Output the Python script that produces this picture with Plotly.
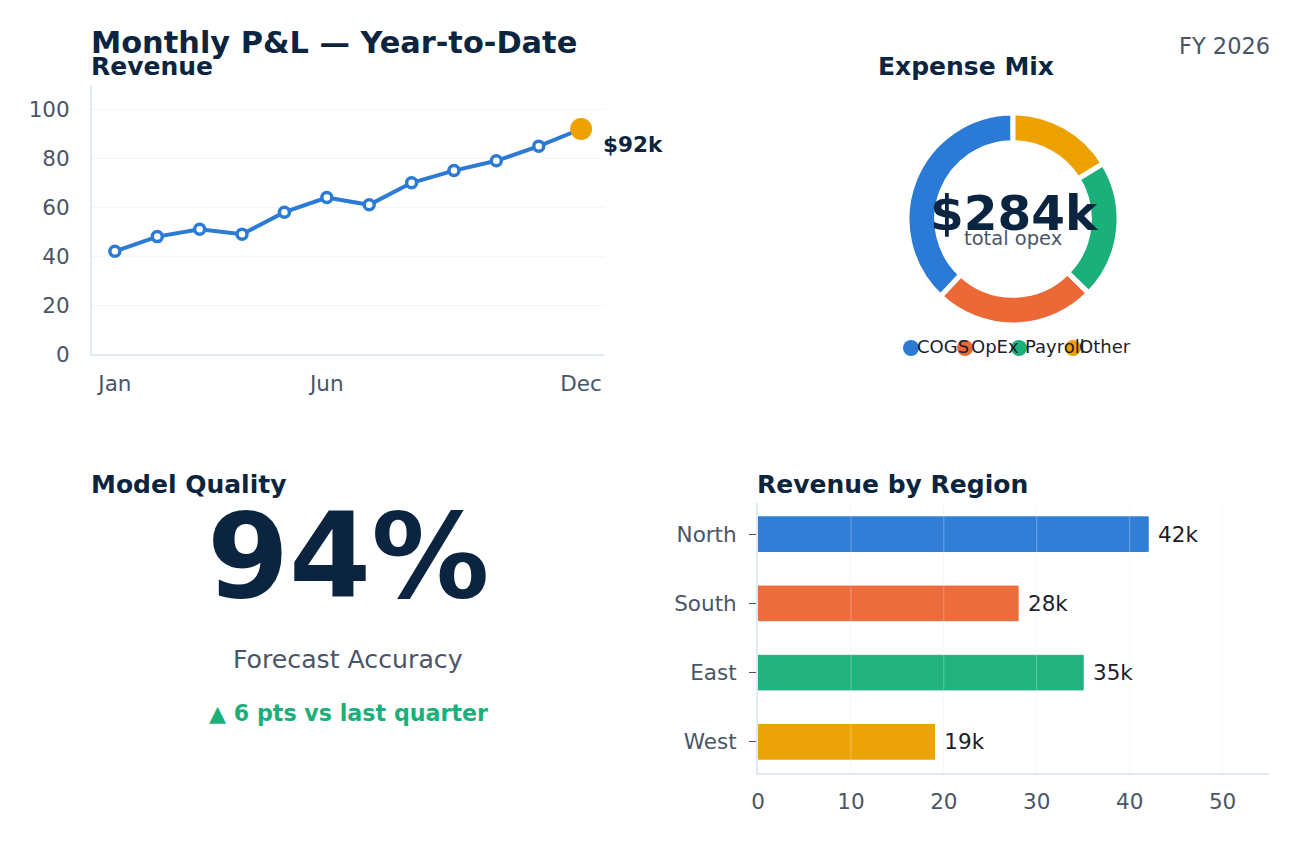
import plotly.graph_objects as go

W, H = 1299, 842

months = ["Jan", "Feb", "Mar", "Apr", "May", "Jun", "Jul", "Aug", "Sep", "Oct", "Nov", "Dec"]
revenue = [42, 48, 51, 49, 58, 64, 61, 70, 75, 79, 85, 92]
month_ticks = ["Jan", "Jun", "Dec"]
rev_yticks = [0, 20, 40, 60, 80, 100]

expense_labels = ["COGS", "OpEx", "Payroll", "Other"]
expense_values = [108, 70, 60, 46]

regions = ["North", "South", "East", "West"]
region_values = [42, 28, 35, 19]
region_xticks = [0, 10, 20, 30, 40, 50]

kpi_value = "94%"
kpi_label = "Forecast Accuracy"
kpi_delta = "▲ 6 pts vs last quarter"

NAVY = "#0b2540"
GREY = "#4a5568"
DARK = "#1a202c"
BLUE = "#2b7ad6"
ORANGE = "#ec6836"
GREEN = "#1bb07a"
GOLD = "#eda100"
palette = [BLUE, ORANGE, GREEN, GOLD]
AXIS = "#e2e8f0"
GRID = "#f3f6f9"
FONT = "DejaVu Sans"
TICK = 21.5


def px_x(p):
    return p / W


def px_y(p):
    return 1 - p / H


fig = go.Figure()

# Revenue line
fig.add_trace(go.Scatter(
    x=months, y=revenue, mode="lines+markers",
    line=dict(color=BLUE, width=4),
    marker=dict(size=10, color="white", line=dict(color=BLUE, width=3.5)),
    xaxis="x", yaxis="y", showlegend=False, cliponaxis=False, hoverinfo="x+y"))
fig.add_trace(go.Scatter(
    x=[months[-1]], y=[revenue[-1]], mode="markers",
    marker=dict(size=22, color=GOLD),
    xaxis="x", yaxis="y", showlegend=False, cliponaxis=False))

# Donut: first slice runs counter-clockwise from 12 o'clock
first_share = expense_values[0] / sum(expense_values)
fig.add_trace(go.Pie(
    labels=expense_labels, values=expense_values, hole=0.72, sort=False,
    direction="counterclockwise", rotation=-360 * first_share,
    marker=dict(colors=palette, line=dict(color="white", width=5)),
    textinfo="none", showlegend=False,
    domain=dict(x=[px_x(907), px_x(1119)], y=[px_y(325), px_y(113)])))

# Custom legend for donut: circles first, labels drawn on top
idx = list(range(len(expense_labels)))
fig.add_trace(go.Scatter(
    x=idx, y=[0] * len(idx), mode="markers",
    marker=dict(size=16, color=palette),
    xaxis="x3", yaxis="y3", showlegend=False, cliponaxis=False, hoverinfo="skip"))
fig.add_trace(go.Scatter(
    x=idx, y=[0] * len(idx),
    mode="markers+text", text=expense_labels, textposition="middle right",
    marker=dict(size=8, color="rgba(0,0,0,0)"),
    textfont=dict(family=FONT, size=18, color=DARK),
    xaxis="x3", yaxis="y3", showlegend=False, cliponaxis=False, hoverinfo="skip"))

# Region bars
fig.add_trace(go.Bar(
    y=regions, x=region_values, orientation="h",
    marker=dict(color=palette, opacity=0.97, line=dict(width=1, color=palette)),
    width=0.5,
    texttemplate="\u00a0%{x}k", textposition="outside",
    textfont=dict(family=FONT, size=TICK, color=DARK),
    cliponaxis=False,
    xaxis="x4", yaxis="y4", showlegend=False))

tickfont = dict(family=FONT, size=TICK, color=GREY)

annotations = [
    dict(text="Monthly P&L — Year-to-Date", x=px_x(89), y=px_y(43), xanchor="left", yanchor="middle",
         font=dict(family=FONT, size=30.4, color=NAVY, weight="bold")),
    dict(text="FY 2026", x=px_x(1272), y=px_y(46), xanchor="right", yanchor="middle",
         font=dict(family=FONT, size=22.5, color=GREY)),
    dict(text="Revenue", x=px_x(89), y=px_y(66), xanchor="left", yanchor="middle",
         font=dict(family=FONT, size=25, color=NAVY, weight="bold")),
    dict(text="Expense Mix", x=px_x(966), y=px_y(66), xanchor="center", yanchor="middle",
         font=dict(family=FONT, size=25, color=NAVY, weight="bold")),
    dict(text="Model Quality", x=px_x(89), y=px_y(484), xanchor="left", yanchor="middle",
         font=dict(family=FONT, size=25, color=NAVY, weight="bold")),
    dict(text="Revenue by Region", x=px_x(755), y=px_y(484), xanchor="left", yanchor="middle",
         font=dict(family=FONT, size=25, color=NAVY, weight="bold")),
    dict(text=f"${sum(expense_values)}k", x=px_x(1014), y=px_y(213), xanchor="center", yanchor="middle",
         font=dict(family=FONT, size=48.5, color=NAVY, weight="bold")),
    dict(text="total opex", x=px_x(1013), y=px_y(239), xanchor="center", yanchor="middle",
         font=dict(family=FONT, size=19.5, color=GREY)),
    dict(text=kpi_value, x=px_x(348), y=px_y(556), xanchor="center", yanchor="middle",
         font=dict(family=FONT, size=118, color=NAVY, weight="bold")),
    dict(text=kpi_label, x=px_x(348), y=px_y(659), xanchor="center", yanchor="middle",
         font=dict(family=FONT, size=25.2, color=GREY)),
    dict(text=kpi_delta, x=px_x(348), y=px_y(713), xanchor="center", yanchor="middle",
         font=dict(family=FONT, size=22.2, color=GREEN, weight="bold")),
]
for a in annotations:
    a.update(xref="paper", yref="paper", showarrow=False)

# end-of-line value label, anchored to the last data point
annotations.append(dict(
    text=f"${revenue[-1]}k", xref="x", yref="y", x=months[-1], y=revenue[-1],
    xanchor="left", yanchor="middle", xshift=20, yshift=-15, showarrow=False,
    font=dict(family=FONT, size=21.5, color=NAVY, weight="bold")))

# gridlines drawn over bars (light translucent)
shapes = [dict(type="line", xref="x4", yref="y4 domain", x0=v, x1=v, y0=0, y1=1,
               line=dict(color="rgba(255,255,255,0.3)", width=1), layer="above")
          for v in region_xticks[1:]]

fig.update_layout(
    width=W, height=H, margin=dict(l=0, r=0, t=0, b=0, autoexpand=False),
    paper_bgcolor="white", plot_bgcolor="white",
    font=dict(family=FONT, color=GREY),
    showlegend=False,
    annotations=annotations, shapes=shapes,
    xaxis=dict(domain=[px_x(92), px_x(604)], type="category", categoryarray=months,
               range=[-0.54, 11.54], tickvals=month_ticks, ticktext=month_ticks,
               showgrid=False, showline=True, linecolor=AXIS, linewidth=2, automargin=False,
               ticks="", tickfont=tickfont, ticklabelstandoff=9, zeroline=False, fixedrange=True),
    yaxis=dict(domain=[px_y(354), px_y(85)], range=[0, 110], tickvals=rev_yticks,
               showgrid=True, gridcolor=GRID, gridwidth=1, showline=True, linecolor=AXIS, linewidth=2,
               automargin=False,
               ticks="", tickfont=tickfont, ticklabelstandoff=16, zeroline=False, fixedrange=True),
    xaxis3=dict(domain=[px_x(857), px_x(1127)], range=[-1, 4], visible=False, fixedrange=True,
                automargin=False),
    yaxis3=dict(domain=[px_y(358), px_y(338)], range=[-1, 1], visible=False, fixedrange=True,
                automargin=False),
    xaxis4=dict(domain=[px_x(758), px_x(1269)], range=[0, 55], tickvals=region_xticks,
                showgrid=True, gridcolor=GRID, showline=True, linecolor=AXIS, linewidth=2,
                automargin=False,
                ticks="", tickfont=tickfont, ticklabelstandoff=8, zeroline=False, fixedrange=True,
                anchor="y4"),
    yaxis4=dict(domain=[px_y(773), px_y(503)], type="category", categoryarray=regions,
                range=[3.45, -0.45], showgrid=False, showline=True, linecolor=AXIS, linewidth=2,
                automargin=False,
                ticks="outside", ticklen=7, tickcolor=GREY, tickwidth=1,
                tickfont=tickfont, ticklabelstandoff=8, zeroline=False, fixedrange=True,
                anchor="x4"),
)

fig.write_html("out.html")
